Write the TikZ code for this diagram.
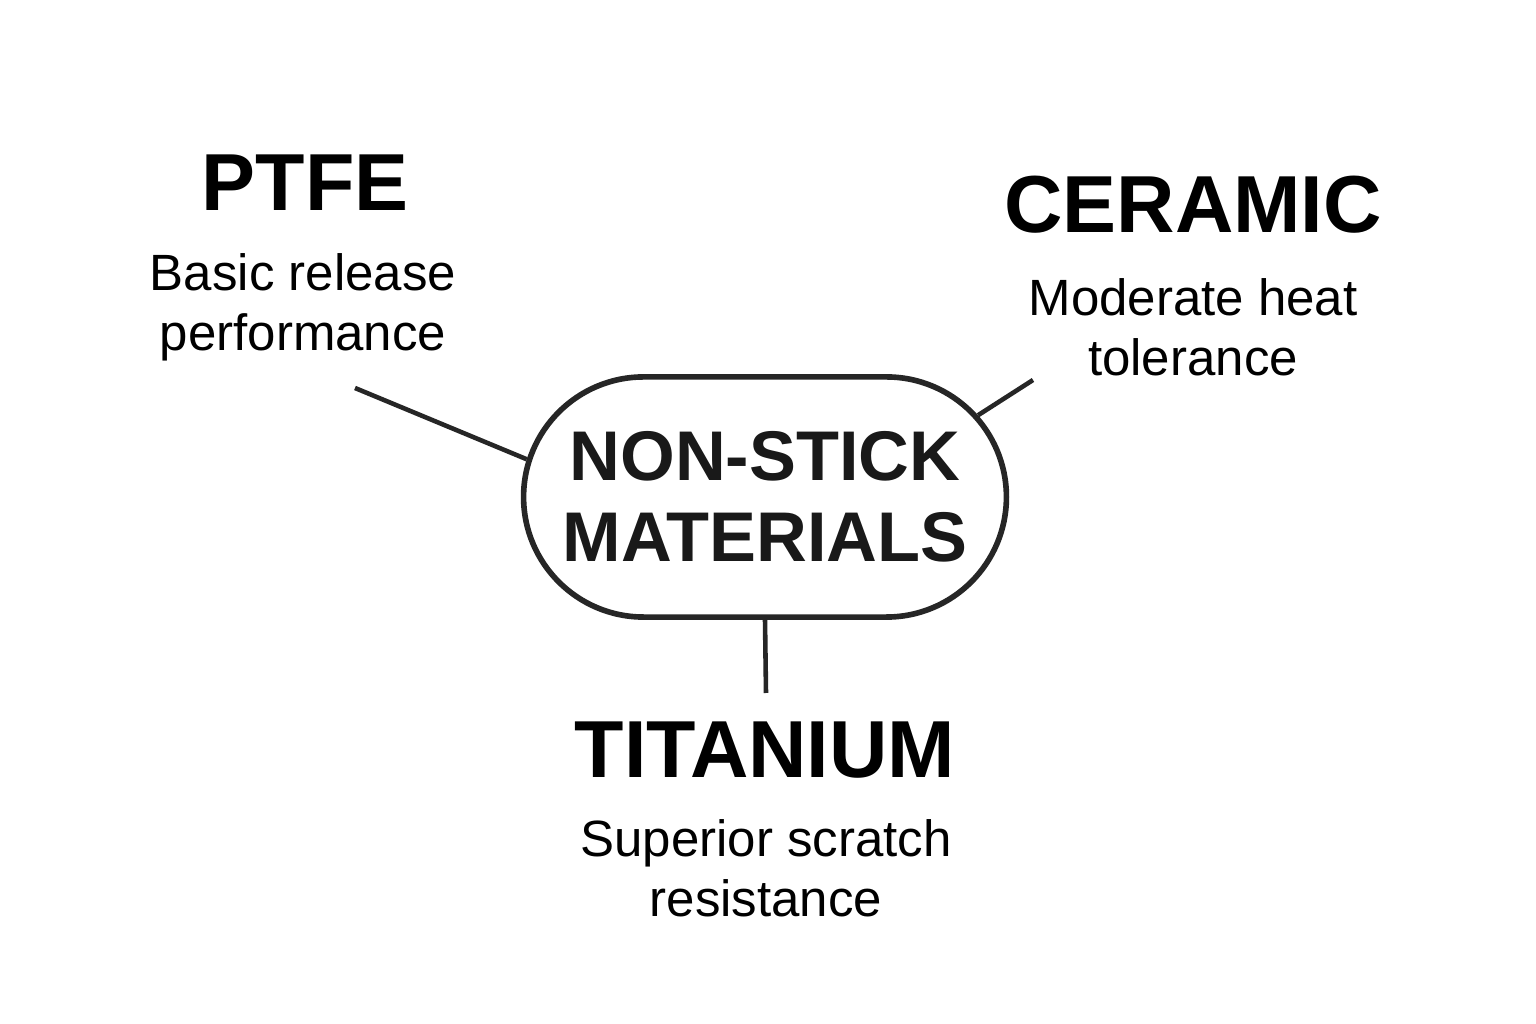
\documentclass[tikz,border=0pt]{standalone}
\usepackage{fontspec}
\setmainfont{Liberation Sans}
\usetikzlibrary{shapes.misc}
\tikzset{
  title/.style={font=\fontsize{23}{27}\selectfont\bfseries, inner sep=0pt},
  desc/.style={font=\fontsize{14.5}{17}\selectfont, align=center, inner sep=0pt},
  link/.style={line width=1.3pt, black!85}
}
\begin{document}
\begin{tikzpicture}[x=0.01cm,y=0.01cm]
  \useasboundingbox[fill=white] (0,0) rectangle (1536,1024);
  \node[draw, line width=1.6pt, black!85, rounded rectangle, minimum width=5.06cm, minimum height=2.4cm,
        font=\fontsize{20}{24}\selectfont\bfseries, align=center, text=black!90] (pill) at (765,527) {NON-STICK\\[-1pt]MATERIALS};

  \node[title] (ptfe) at (305,841) {PTFE};
  \node[desc] (ptfeDesc) at (303,717) {Basic release\\performance};
  \node[title] (ceramic) at (1193,819) {CERAMIC};
  \node[desc] (ceramicDesc) at (1193,697) {Moderate heat\\tolerance};
  \node[title] (titanium) at (765,274) {TITANIUM};
  \node[desc] (titaniumDesc) at (766,156) {Superior scratch\\resistance};

  \coordinate (ptfeEnd) at (355,636);
  \coordinate (ceramicEnd) at (1033,644);
  \coordinate (titaniumEnd) at (766,331);

  \draw[link] (pill.171) -- (ptfeEnd);
  \draw[link] (pill.21) -- (ceramicEnd);
  \draw[link] (pill.south) -- (titaniumEnd);
\end{tikzpicture}
\end{document}
